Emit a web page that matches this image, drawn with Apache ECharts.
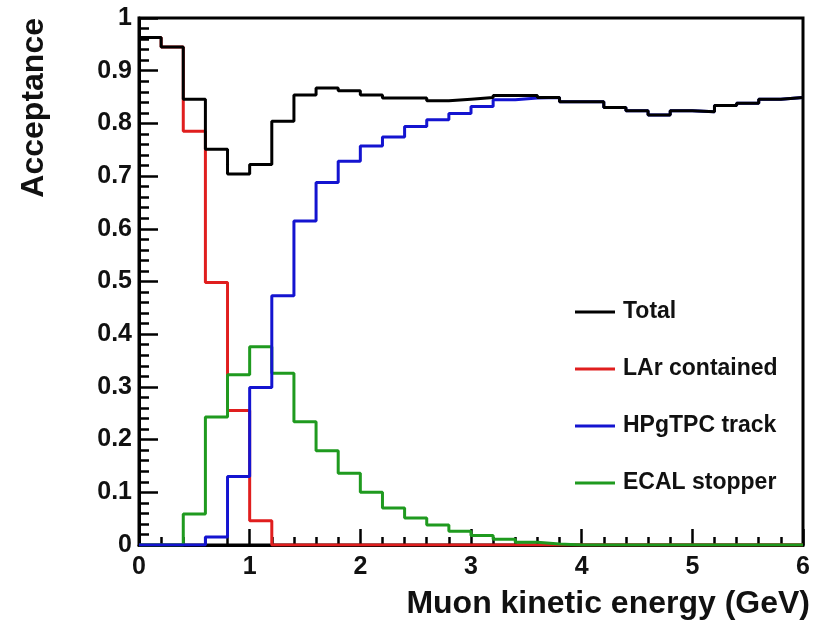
<!DOCTYPE html>
<html>
<head>
<meta charset="utf-8">
<script src="https://cdn.jsdelivr.net/npm/echarts@6/dist/echarts.min.js"></script>
<style>
html, body { margin: 0; padding: 0; background: #fff; }
#chart { width: 822px; height: 627px; }
</style>
</head>
<body>
<div id="chart"></div>
<script>
// bin edges (GeV), 30 bins of 0.2
var binEdges = [0, 0.2, 0.4, 0.6, 0.8, 1.0, 1.2, 1.4, 1.6, 1.8, 2.0, 2.2, 2.4, 2.6, 2.8, 3.0,
	3.2, 3.4, 3.6, 3.8, 4.0, 4.2, 4.4, 4.6, 4.8, 5.0, 5.2, 5.4, 5.6, 5.8, 6.0]

var totalAcc = [0.963, 0.945, 0.846, 0.751, 0.704, 0.722, 0.804, 0.854, 0.867, 0.862,
	0.854, 0.848, 0.848, 0.843, 0.846, 0.849, 0.853, 0.853, 0.849, 0.841,
	0.841, 0.830, 0.824, 0.816, 0.824, 0.822, 0.834, 0.838, 0.846, 0.849]

var larAcc = [0.963, 0.945, 0.785, 0.498, 0.255, 0.046, 0, 0, 0, 0,
	0, 0, 0, 0, 0, 0, 0, 0, 0, 0,
	0, 0, 0, 0, 0, 0, 0, 0, 0, 0]

var tpcAcc = [0, 0, 0, 0.015, 0.130, 0.299, 0.473, 0.615, 0.688, 0.728,
	0.757, 0.774, 0.794, 0.807, 0.819, 0.832, 0.845, 0.848, 0.849, 0.841,
	0.841, 0.830, 0.824, 0.816, 0.824, 0.822, 0.834, 0.838, 0.846, 0.849]

var ecalAcc = [0, 0, 0.059, 0.243, 0.323, 0.376, 0.326, 0.234, 0.179, 0.136,
	0.100, 0.070, 0.051, 0.038, 0.026, 0.018, 0.011, 0.005, 0.002, 0,
	0, 0, 0, 0, 0, 0, 0, 0, 0, 0]

var seriesNames = ['Total', 'LAr contained', 'HPgTPC track', 'ECAL stopper']
var xTitle = 'Muon kinetic energy (GeV)'
var yTitle = 'Acceptance'

// histogram -> step points (left edge of each bin, plus closing point at last edge)
function toSteps(vals) {
	return binEdges.map(function(e, i) {
		return [e, vals[Math.min(i, vals.length - 1)]]
	})
}

function histSeries(name, vals, color, z) {
	return {
		name: name,
		type: 'line',
		step: 'end',
		symbol: 'none',
		z: z,
		data: toSteps(vals),
		lineStyle: { color: color, width: 3 },
		itemStyle: { color: color }
	}
}

var FONT = '"Liberation Sans", Arial, Helvetica, sans-serif'

var chart = echarts.init(document.getElementById('chart'))
chart.setOption({
	animation: false,
	backgroundColor: '#fff',
	grid: {
		left: 139,
		right: 19,
		top: 18,
		bottom: 82,
		show: true,
		borderColor: '#000',
		borderWidth: 3,
		containLabel: false,
		outerBoundsMode: 'none'
	},
	legend: {
		orient: 'vertical',
		left: 575,
		top: 300,
		padding: 0,
		icon: 'rect',
		itemWidth: 40,
		itemHeight: 3,
		itemGap: 33,
		data: seriesNames,
		textStyle: {
			fontFamily: FONT,
			fontWeight: 'bold',
			fontSize: 23,
			lineHeight: 24,
			color: '#111',
			padding: [0, 0, 0, 3]
		}
	},
	xAxis: {
		type: 'value',
		min: 0,
		max: 6,
		interval: 1,
		axisLine: { lineStyle: { color: '#000', width: 3 } },
		axisTick: { inside: true, length: 16, lineStyle: { color: '#000', width: 2.5 } },
		minorTick: { show: true, splitNumber: 5, length: 8, lineStyle: { color: '#000', width: 2.5 } },
		splitLine: { show: false },
		axisLabel: {
			margin: 10,
			fontFamily: FONT,
			fontWeight: 'bold',
			fontSize: 25,
			color: '#111'
		}
	},
	yAxis: {
		type: 'value',
		min: 0,
		max: 1,
		interval: 0.1,
		axisLine: { lineStyle: { color: '#000', width: 3 } },
		axisTick: { inside: true, length: 19, lineStyle: { color: '#000', width: 2.5 } },
		minorTick: { show: true, splitNumber: 5, length: 10, lineStyle: { color: '#000', width: 2.5 } },
		splitLine: { show: false },
		axisLabel: {
			margin: 7,
			fontFamily: FONT,
			fontWeight: 'bold',
			fontSize: 25,
			color: '#111'
		}
	},
	graphic: [{
		type: 'text',
		x: 810,
		y: 604,
		style: {
			text: xTitle,
			align: 'right',
			verticalAlign: 'middle',
			font: 'bold 32px ' + FONT,
			fill: '#111'
		}
	}, {
		type: 'text',
		x: 34,
		y: 18,
		rotation: Math.PI / 2,
		style: {
			text: yTitle,
			align: 'right',
			verticalAlign: 'middle',
			font: 'bold 32px ' + FONT,
			fill: '#111'
		}
	}],
	series: [
		histSeries(seriesNames[3], ecalAcc, '#1f9a1f', 3),
		histSeries(seriesNames[1], larAcc, '#e01e1e', 2),
		histSeries(seriesNames[2], tpcAcc, '#1414d0', 4),
		histSeries(seriesNames[0], totalAcc, '#000000', 5)
	]
})
</script>
</body>
</html>
